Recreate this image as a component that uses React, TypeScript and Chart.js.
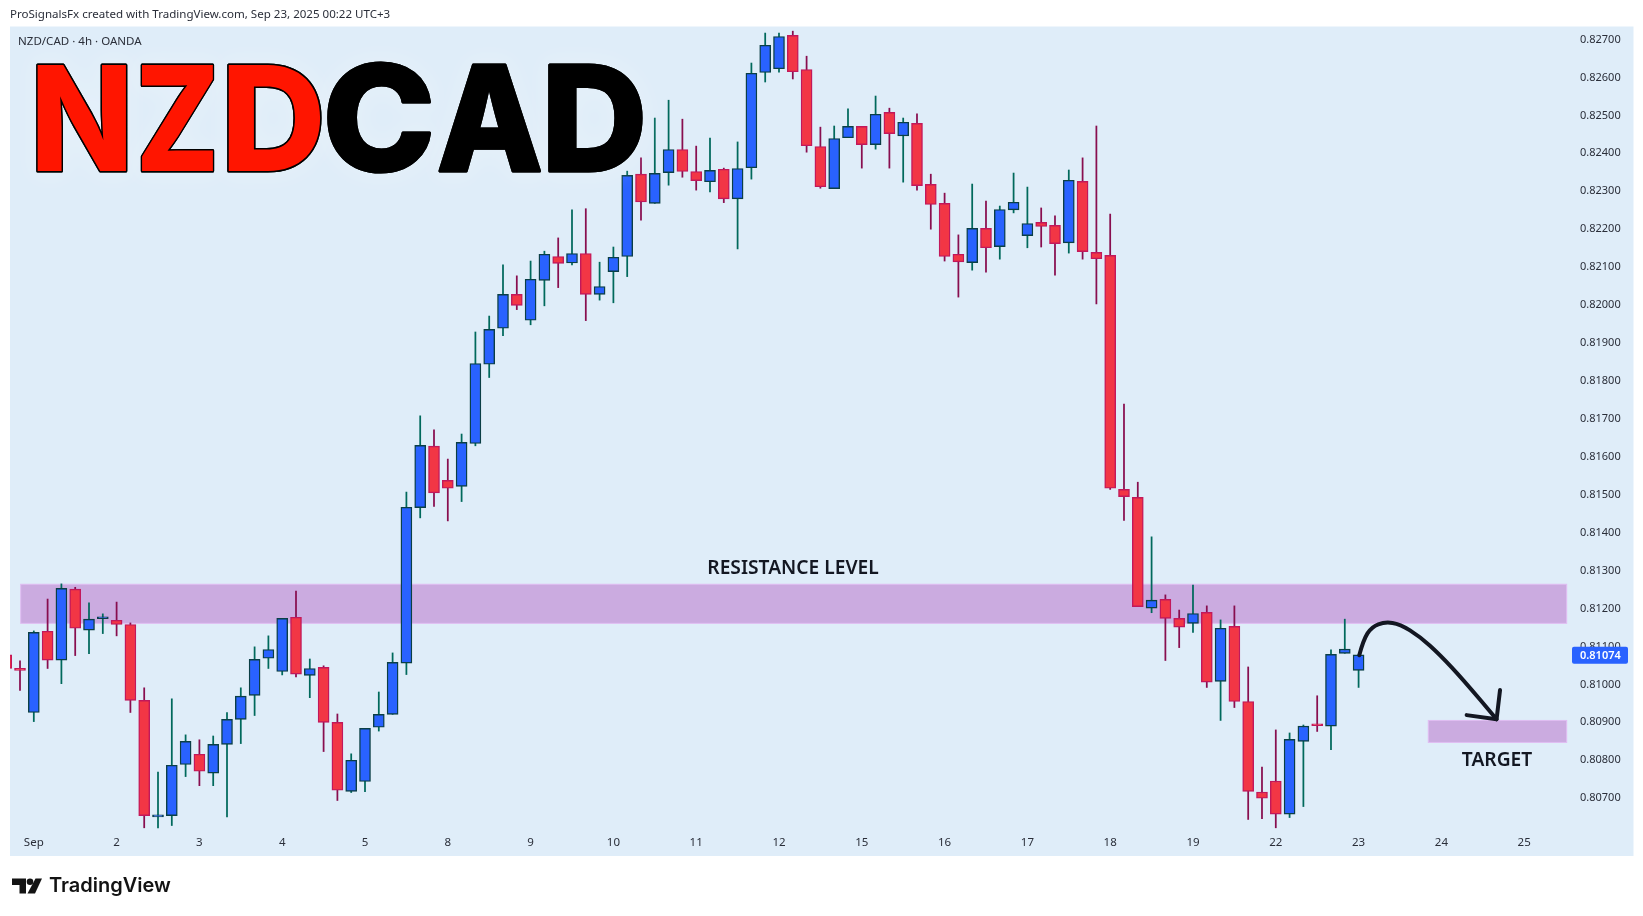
import { useEffect, useRef } from "react";
import { Chart, registerables, Plugin } from "chart.js";

Chart.register(...registerables);

// 4h candles, first one sits just off the left edge (bar -1)
const firstBar = -1;
const opens = [
  0.81074, 0.81038, 0.80922, 0.81136, 0.8106, 0.81247, 0.81139, 0.81169, 0.81165, 0.81154,
  0.80954, 0.80647, 0.8065, 0.80785, 0.80812, 0.80762, 0.80838, 0.80904, 0.80967, 0.81065,
  0.8103, 0.81173, 0.8102, 0.81041, 0.80896, 0.80714, 0.8074, 0.80883, 0.80917, 0.81052,
  0.81462, 0.81624, 0.81534, 0.81518, 0.81631, 0.8184, 0.81935, 0.82024, 0.81956, 0.82061,
  0.82124, 0.82107, 0.82132, 0.82024, 0.82084, 0.82124, 0.82341, 0.82264, 0.82345, 0.82406,
  0.82348, 0.82321, 0.82354, 0.82276, 0.82358, 0.82609, 0.82619, 0.82707, 0.82617, 0.82414,
  0.82303, 0.82437, 0.82467, 0.82419, 0.82504, 0.82442, 0.82475, 0.82314, 0.82264, 0.8213,
  0.82108, 0.82198, 0.8215, 0.82247, 0.82179, 0.82214, 0.82206, 0.8216, 0.82322, 0.82135,
  0.82127, 0.8151, 0.81489, 0.81197, 0.8122, 0.8117, 0.81157, 0.81186, 0.81004, 0.81149,
  0.80951, 0.80712, 0.80741, 0.80654, 0.80846, 0.80889, 0.80886, 0.81078, 0.81033,
];
const highs = [
  0.81085, 0.81058, 0.81137, 0.81221, 0.81261, 0.81252, 0.81211, 0.81182, 0.81213, 0.81158,
  0.80987, 0.80765, 0.80958, 0.80863, 0.8085, 0.8086, 0.80922, 0.80987, 0.81095, 0.81124,
  0.8117, 0.81242, 0.81063, 0.81045, 0.80918, 0.80813, 0.8088, 0.80976, 0.81079, 0.81503,
  0.81704, 0.81667, 0.8159, 0.81656, 0.81925, 0.81967, 0.82102, 0.82073, 0.82112, 0.82138,
  0.82173, 0.82247, 0.8225, 0.82109, 0.82149, 0.82349, 0.82384, 0.82489, 0.82536, 0.82486,
  0.82415, 0.82436, 0.82357, 0.82426, 0.82634, 0.82713, 0.82713, 0.82718, 0.82652, 0.82465,
  0.82468, 0.82513, 0.82467, 0.82547, 0.82515, 0.82489, 0.825, 0.82341, 0.82291, 0.82181,
  0.82315, 0.8227, 0.82257, 0.82344, 0.82307, 0.82252, 0.82231, 0.82352, 0.82384, 0.82468,
  0.82236, 0.81735, 0.81529, 0.81385, 0.81232, 0.81192, 0.81258, 0.81203, 0.81166, 0.81203,
  0.81042, 0.80778, 0.80876, 0.80868, 0.80889, 0.80966, 0.81087, 0.81168, 0.81074,
];
const lows = [
  0.8103, 0.8098, 0.80898, 0.81038, 0.80998, 0.81072, 0.81077, 0.8113, 0.81124, 0.80922,
  0.80618, 0.80618, 0.80624, 0.80753, 0.80729, 0.80729, 0.80647, 0.8084, 0.80914, 0.81038,
  0.81021, 0.81016, 0.80961, 0.80819, 0.8069, 0.80711, 0.80713, 0.80873, 0.80917, 0.81022,
  0.81435, 0.81465, 0.81427, 0.81478, 0.81625, 0.81805, 0.81915, 0.81984, 0.81944, 0.81994,
  0.82042, 0.82102, 0.81955, 0.82009, 0.82002, 0.82071, 0.8222, 0.82264, 0.82312, 0.82333,
  0.82299, 0.82294, 0.82266, 0.82144, 0.82328, 0.82584, 0.8261, 0.82592, 0.82399, 0.82304,
  0.82303, 0.82437, 0.82357, 0.82407, 0.82357, 0.8232, 0.82299, 0.82196, 0.82112, 0.82017,
  0.82088, 0.82083, 0.82117, 0.82239, 0.82147, 0.82149, 0.82075, 0.82133, 0.82117, 0.81999,
  0.8151, 0.81428, 0.81201, 0.81185, 0.81059, 0.81093, 0.81133, 0.80988, 0.80901, 0.80935,
  0.8064, 0.80642, 0.80618, 0.80645, 0.80674, 0.80872, 0.80824, 0.81078, 0.80988,
];
const closes = [
  0.81038, 0.81033, 0.81133, 0.8106, 0.81249, 0.81144, 0.81168, 0.8117, 0.81154, 0.80954,
  0.8065, 0.80648, 0.80783, 0.80846, 0.80767, 0.80838, 0.80904, 0.80965, 0.81062, 0.81088,
  0.8117, 0.81023, 0.81038, 0.80896, 0.80717, 0.80796, 0.8088, 0.80917, 0.81054, 0.81463,
  0.81626, 0.81501, 0.81513, 0.81634, 0.81842, 0.81932, 0.82024, 0.81995, 0.82064, 0.8213,
  0.82106, 0.82132, 0.82024, 0.82045, 0.82122, 0.82338, 0.82268, 0.82343, 0.82406, 0.82348,
  0.82324, 0.82351, 0.82276, 0.82356, 0.82607, 0.82681, 0.82704, 0.82611, 0.82416, 0.82308,
  0.82435, 0.82467, 0.82419, 0.82499, 0.82448, 0.82478, 0.82311, 0.82261, 0.82124, 0.8211,
  0.82198, 0.82147, 0.82248, 0.82267, 0.82211, 0.82203, 0.82158, 0.82325, 0.82137, 0.82118,
  0.81513, 0.81491, 0.81201, 0.81218, 0.8117, 0.81147, 0.81183, 0.81002, 0.81144, 0.80951,
  0.80714, 0.80696, 0.80654, 0.80851, 0.80886, 0.80887, 0.81075, 0.81089, 0.81074,
];

const dayBars = [1, 7, 13, 19, 25, 31, 37, 43, 49, 55, 61, 67, 73, 79, 85, 91, 97, 103, 109];
const dayLabels = ["Sep", "2", "3", "4", "5", "8", "9", "10", "11", "12", "15", "16", "17", "18", "19", "22", "23", "24", "25"];
const priceTicks = [
  0.807, 0.808, 0.809, 0.81, 0.811, 0.812, 0.813, 0.814, 0.815, 0.816, 0.817,
  0.818, 0.819, 0.82, 0.821, 0.822, 0.823, 0.824, 0.825, 0.826, 0.827,
];
const lastPrice = 0.81074;

// drawn zones and arrow, in [bar, price]
const resistanceZone = { fromBar: 0.05, toBar: 112.08, top: 0.8126, bottom: 0.81157 };
const targetZone = { fromBar: 102.05, toBar: 112.08, top: 0.80901, bottom: 0.80843 };
const arrowPath = [
  [97.05, 0.81073], [97.34, 0.81113], [97.95, 0.81148], [98.91, 0.81161], [100.0, 0.81155],
  [101.45, 0.81122], [102.9, 0.81074], [104.59, 0.81008], [107.0, 0.80904],
];
const arrowHead = [[104.83, 0.80915], [107.0, 0.80904], [107.25, 0.80981]];

// title letters, fitted to the boxes they take in the picture
const titleLetters = [
  { ch: "N", left: 37.5, right: 126.5, fill: "#ff1500" },
  { ch: "Z", left: 141.5, right: 213.5, fill: "#ff1500" },
  { ch: "D", left: 228.5, right: 320.5, fill: "#ff1500" },
  { ch: "C", left: 328, right: 430.5, fill: "#000000" },
  { ch: "A", left: 439.5, right: 539.5, fill: "#000000" },
  { ch: "D", left: 549.5, right: 641.5, fill: "#000000" },
];

const UP = { body: "#2962ff", border: "#0b3f45", wick: "#00695c" };
const DOWN = { body: "#f23645", border: "#c2185b", wick: "#880e4f" };
const isUp = (i: number) => closes[i] >= opens[i];
const FONT = '"Noto Sans"';

const panelPlugin: Plugin = {
  id: "panel",
  beforeDatasetsDraw(chart) {
    const { ctx } = chart;
    const x = chart.scales.x;
    const y = chart.scales.y;
    ctx.save();
    for (const z of [resistanceZone, targetZone]) {
      const left = x.getPixelForValue(z.fromBar);
      const right = x.getPixelForValue(z.toBar);
      const top = y.getPixelForValue(z.top);
      const bottom = y.getPixelForValue(z.bottom);
      ctx.fillStyle = "#cbabe0";
      ctx.strokeStyle = "#e0bdf2";
      ctx.lineWidth = 1;
      ctx.fillRect(left, top, right - left, bottom - top);
      ctx.strokeRect(left, top, right - left, bottom - top);
    }
    ctx.restore();
  },
  beforeDraw(chart) {
    const { ctx } = chart;
    ctx.save();
    ctx.fillStyle = "#ffffff";
    ctx.fillRect(0, 0, chart.width, chart.height);
    ctx.fillStyle = "#dfedf9";
    ctx.fillRect(10, 26.5, 1623.5, 829.5);
    ctx.restore();
  },
};

function drawTitle(ctx: CanvasRenderingContext2D) {
  const baseline = 170.5;
  ctx.font = "800 146px Inter";
  ctx.textBaseline = "alphabetic";
  ctx.textAlign = "left";
  ctx.lineJoin = "round";
  ctx.strokeStyle = "#000000";
  for (const pass of ["glow", "ink"]) {
    for (const l of titleLetters) {
      const m = ctx.measureText(l.ch);
      const inkLeft = -m.actualBoundingBoxLeft;
      const sx = (l.right - l.left) / (m.actualBoundingBoxRight - inkLeft);
      ctx.save();
      ctx.translate(l.left - inkLeft * sx, baseline);
      ctx.scale(sx, 1);
      ctx.lineWidth = 3;
      if (pass === "glow") {
        ctx.shadowColor = "rgba(255,255,255,1)";
        ctx.shadowBlur = 22;
        ctx.strokeText(l.ch, 0, 0);
      } else {
        ctx.strokeText(l.ch, 0, 0);
        ctx.fillStyle = l.fill;
        ctx.fillText(l.ch, 0, 0);
      }
      ctx.restore();
    }
  }
}

const overlayPlugin: Plugin = {
  id: "overlay",
  afterDraw(chart) {
    const { ctx } = chart;
    const x = chart.scales.x;
    const y = chart.scales.y;
    ctx.save();

    // header texts
    ctx.textBaseline = "middle";
    ctx.textAlign = "left";
    ctx.fillStyle = "#2a2e39";
    ctx.font = `11.55px ${FONT}`;
    ctx.fillText("ProSignalsFx created with TradingView.com, Sep 23, 2025 00:22 UTC+3", 10, 15);
    ctx.fillText("NZD/CAD · 4h · OANDA", 18, 42);

    drawTitle(ctx);

    // zone captions
    ctx.textBaseline = "middle";
    ctx.textAlign = "center";
    ctx.fillStyle = "#131722";
    ctx.font = `600 19.2px ${FONT}`;
    ctx.fillText("RESISTANCE LEVEL", 793, 568.5);
    ctx.fillText("TARGET", 1497, 760.5);

    // arrow
    const pts = arrowPath.map(([b, p]) => [x.getPixelForValue(b), y.getPixelForValue(p)]);
    ctx.strokeStyle = "#131722";
    ctx.lineWidth = 4;
    ctx.lineCap = "round";
    ctx.lineJoin = "round";
    ctx.beginPath();
    ctx.moveTo(pts[0][0], pts[0][1]);
    for (let i = 1; i < pts.length - 1; i++) {
      const mx = (pts[i][0] + pts[i + 1][0]) / 2;
      const my = (pts[i][1] + pts[i + 1][1]) / 2;
      ctx.quadraticCurveTo(pts[i][0], pts[i][1], mx, my);
    }
    ctx.lineTo(pts[pts.length - 1][0], pts[pts.length - 1][1]);
    ctx.stroke();
    ctx.beginPath();
    arrowHead.forEach(([b, p], i) => {
      const px = x.getPixelForValue(b);
      const py = y.getPixelForValue(p);
      if (i === 0) ctx.moveTo(px, py);
      else ctx.lineTo(px, py);
    });
    ctx.stroke();

    // last price tag
    const tagY = y.getPixelForValue(lastPrice);
    ctx.fillStyle = "#2962ff";
    ctx.beginPath();
    ctx.roundRect(1572, tagY - 8, 56, 17, 2);
    ctx.fill();
    ctx.fillStyle = "#ffffff";
    ctx.textAlign = "left";
    ctx.font = `600 11px ${FONT}`;
    ctx.fillText(lastPrice.toFixed(5), 1580, tagY + 1);

    // logo
    ctx.fillStyle = "#131313";
    ctx.beginPath();
    ctx.moveTo(12, 878.5);
    ctx.lineTo(26, 878.5);
    ctx.lineTo(26, 893.5);
    ctx.lineTo(19.5, 893.5);
    ctx.lineTo(19.5, 885);
    ctx.lineTo(12, 885);
    ctx.closePath();
    ctx.fill();
    ctx.beginPath();
    ctx.arc(30, 881.8, 3.3, 0, Math.PI * 2);
    ctx.fill();
    ctx.beginPath();
    ctx.moveTo(35.5, 878.5);
    ctx.lineTo(42, 878.5);
    ctx.lineTo(35, 893.5);
    ctx.lineTo(27.5, 893.5);
    ctx.closePath();
    ctx.fill();
    ctx.font = "600 20px Inter";
    ctx.textBaseline = "middle";
    ctx.fillText("TradingView", 49, 886);

    ctx.restore();
  },
};

export default function App() {
  const canvasRef = useRef<HTMLCanvasElement>(null);

  useEffect(() => {
    if (!canvasRef.current) return;
    document.body.style.margin = "0";

    const bars = opens.map((_, i) => i);
    const chart = new Chart(canvasRef.current, {
      type: "bar",
      data: {
        datasets: [
          {
            label: "wick",
            data: bars.map((i) => ({ x: i + firstBar, y: [lows[i], highs[i]] })),
            backgroundColor: bars.map((i) => (isUp(i) ? UP.wick : DOWN.wick)),
            barThickness: 1.1,
            grouped: false,
            order: 2,
          },
          {
            label: "body",
            data: bars.map((i) => ({ x: i + firstBar, y: [opens[i], closes[i]] })),
            backgroundColor: bars.map((i) => (isUp(i) ? UP.body : DOWN.body)),
            borderColor: bars.map((i) => (isUp(i) ? UP.border : DOWN.border)),
            borderWidth: 1.4,
            borderSkipped: false,
            barThickness: 11,
            minBarLength: 2,
            grouped: false,
            order: 1,
          },
        ] as any,
      },
      options: {
        responsive: false,
        animation: false,
        devicePixelRatio: 1,
        layout: { padding: { left: 10, right: 10, top: 27, bottom: 60 } },
        plugins: { legend: { display: false }, tooltip: { enabled: false } },
        scales: {
          x: {
            type: "linear",
            offset: false,
            min: -0.725,
            max: 112.32,
            grid: { display: false, drawTicks: false },
            border: { display: false },
            afterFit: (s: any) => {
              s.height = 26;
            },
            afterBuildTicks: (s: any) => {
              s.ticks = dayBars.map((value) => ({ value }));
            },
            ticks: {
              autoSkip: false,
              maxRotation: 0,
              minRotation: 0,
              padding: 6,
              color: "#2a2e39",
              font: { family: "Noto Sans", size: 11.5 },
              callback: (v: any) => dayLabels[dayBars.indexOf(Number(v))] ?? "",
            },
          },
          y: {
            position: "right",
            min: 0.806122,
            max: 0.82729,
            grid: { display: false, drawTicks: false },
            border: { display: false },
            afterFit: (s: any) => {
              s.width = 63;
            },
            afterBuildTicks: (s: any) => {
              s.ticks = priceTicks.map((value) => ({ value }));
            },
            ticks: {
              padding: 10,
              labelOffset: 1.5,
              color: "#2a2e39",
              font: { family: "Noto Sans", size: 11 },
              callback: (v: any) => Number(v).toFixed(5),
            },
          },
        },
      },
      plugins: [panelPlugin, overlayPlugin],
    });

    return () => chart.destroy();
  }, []);

  return (
    <div style={{ position: "absolute", left: 0, top: 0, width: 1643, height: 916 }}>
      <canvas ref={canvasRef} width={1643} height={916} style={{ display: "block" }} />
    </div>
  );
}
